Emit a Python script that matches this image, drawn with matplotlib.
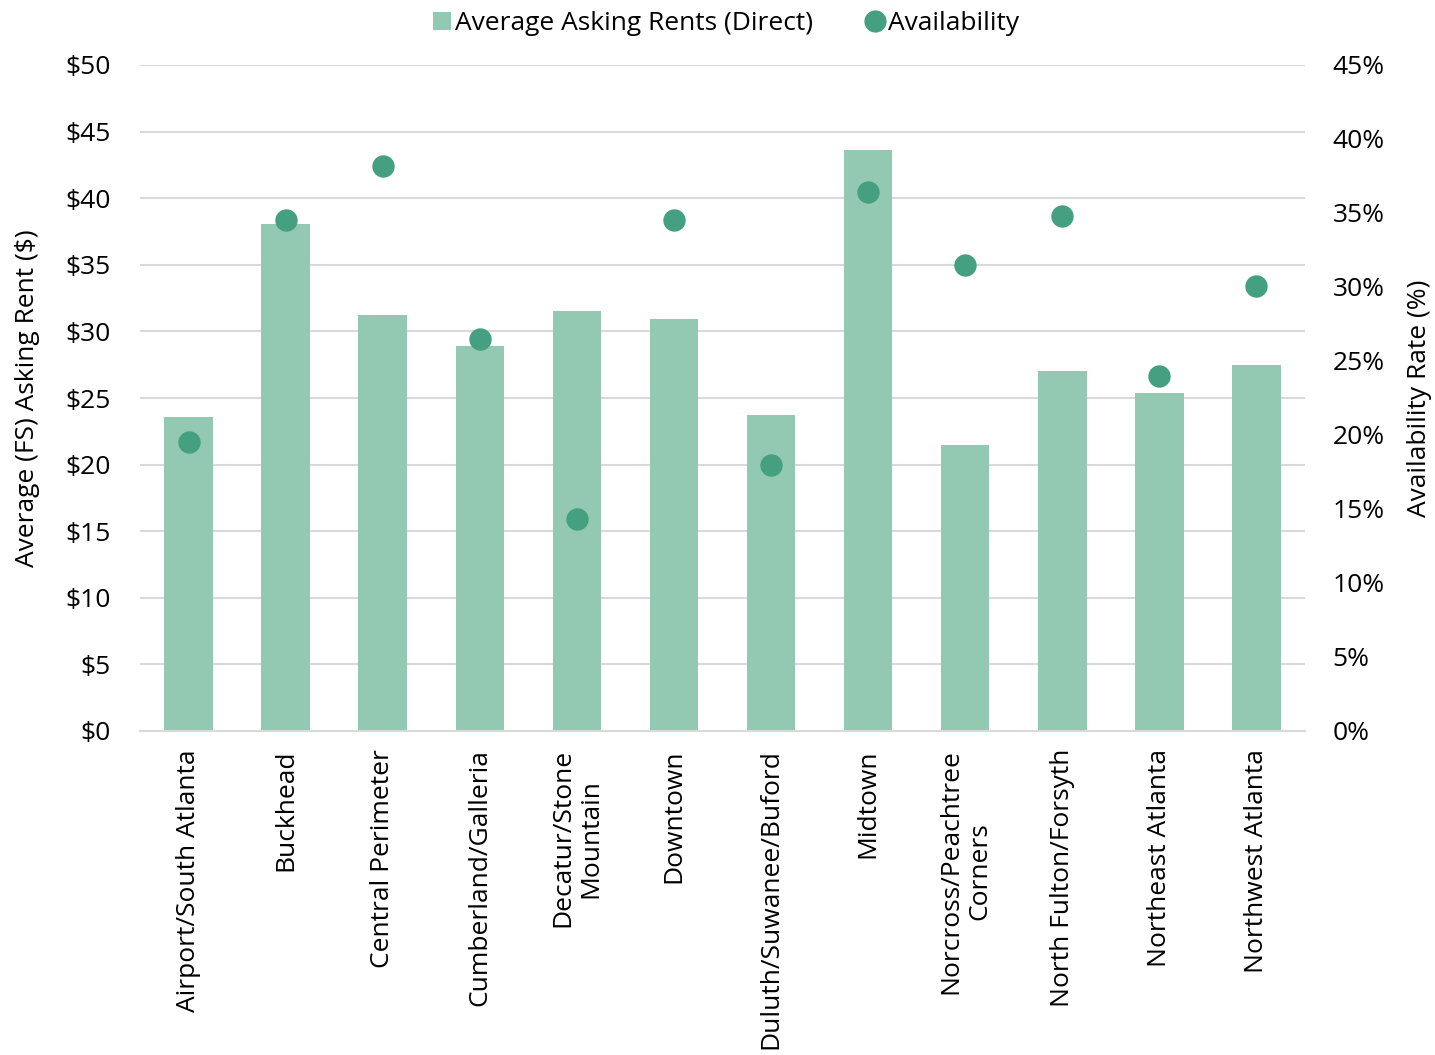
import matplotlib
matplotlib.use("Agg")
import matplotlib.pyplot as plt
from matplotlib.ticker import FuncFormatter
from matplotlib.lines import Line2D
from matplotlib.patches import Patch

plt.rcParams['font.family'] = ['Open Sans', 'DejaVu Sans']

categories = ["Airport/South Atlanta", "Buckhead", "Central Perimeter", "Cumberland/Galleria",
              "Decatur/Stone\nMountain", "Downtown", "Duluth/Suwanee/Buford", "Midtown",
              "Norcross/Peachtree\nCorners", "North Fulton/Forsyth", "Northeast Atlanta",
              "Northwest Atlanta"]
rents = [23.6, 38.1, 31.2, 28.9, 31.5, 30.9, 23.7, 43.6, 21.5, 27.0, 25.4, 27.5]
availability = [19.5, 34.5, 38.2, 26.5, 14.3, 34.5, 18.0, 36.4, 31.5, 34.8, 24.0, 30.1]

bar_color = "#93C9B3"
dot_color = "#45A081"
fs = 19

fig = plt.figure(figsize=(14.35, 10.55), dpi=100)
ax = fig.add_axes([140/1435, 1 - 731/1055, 1165/1435, 666/1055])
ax2 = ax.twinx()

x = list(range(len(categories)))
ax.bar(x, rents, width=0.5, color=bar_color, zorder=2)
ax2.scatter(x, availability, s=260, color=dot_color, zorder=3, linewidths=0)

ax.set_xlim(-0.5, len(categories) - 0.5)
ax.set_ylim(0, 50)
ax.set_yticks(range(0, 51, 5))
ax.yaxis.set_major_formatter(FuncFormatter(lambda v, p: f"${v:.0f}"))
ax2.set_ylim(0, 45)
ax2.set_yticks(range(0, 46, 5))
ax2.yaxis.set_major_formatter(FuncFormatter(lambda v, p: f"{v:.0f}%"))

ax.grid(axis='y', color='#D9D9D9', linewidth=1.5, zorder=0)
ax.set_axisbelow(True)
for a in (ax, ax2):
    for s in a.spines.values():
        s.set_visible(False)
    a.tick_params(length=0, labelsize=fs, colors='#000000')
ax.tick_params(axis='y', pad=21)
ax2.tick_params(axis='y', pad=20)
ax.spines['bottom'].set_visible(True)
ax.spines['bottom'].set_color('#D9D9D9')
ax.spines['bottom'].set_linewidth(1.5)

ax.set_xticks(x)
ax.set_xticklabels(categories, rotation=90, fontsize=fs, ha='center', va='top', multialignment='center')
ax.tick_params(axis='x', pad=13)

ax.set_ylabel("Average (FS) Asking Rent ($)", fontsize=fs, labelpad=18)
ax2.set_ylabel("Availability Rate (%)", fontsize=fs, labelpad=16)

handles = [Patch(facecolor=bar_color, edgecolor='none'),
           Line2D([], [], marker='o', linestyle='none', markersize=16, color=dot_color, markeredgewidth=0)]
fig.legend(handles, ["Average Asking Rents (Direct)", "Availability"], loc='upper center',
           bbox_to_anchor=(0.506, 1.012), ncol=2, frameon=False, fontsize=fs,
           handlelength=0.7, handleheight=0.7, handletextpad=0.15, columnspacing=2.0)

fig.savefig("out.png", dpi=100)
